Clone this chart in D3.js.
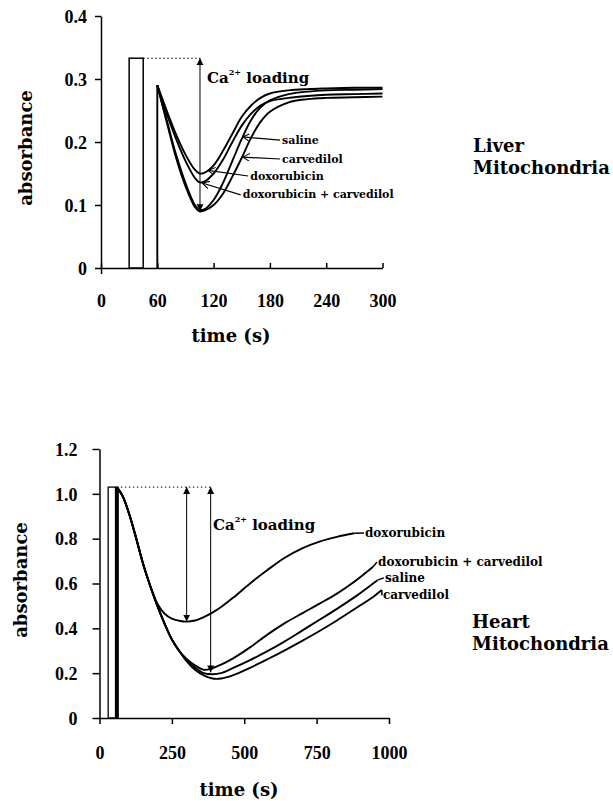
<!DOCTYPE html>
<html>
<head>
<meta charset="utf-8">
<script src="https://d3js.org/d3.v7.min.js"></script>
<style>
body { margin: 0; background: #fff; }
text { font-family: "DejaVu Serif", serif; font-weight: bold; fill: #000; }
</style>
</head>
<body>
<div id="chart"></div>
<script>
// ---- liver mitochondria (top panel) ----
let liverTime = [60, 70, 80, 90, 100, 105, 110, 120, 130, 140, 150, 160, 170, 180, 200, 220, 240, 270, 300]
let liverSaline = [0.29, 0.235, 0.18, 0.135, 0.1, 0.092, 0.093, 0.108, 0.135, 0.17, 0.205, 0.235, 0.255, 0.266, 0.276, 0.28, 0.282, 0.283, 0.284]
let liverCarvedilol = [0.29, 0.232, 0.175, 0.13, 0.097, 0.09, 0.091, 0.1, 0.118, 0.145, 0.175, 0.207, 0.232, 0.248, 0.263, 0.268, 0.27, 0.271, 0.272]
let liverDoxorubicin = [0.29, 0.25, 0.212, 0.18, 0.156, 0.15, 0.151, 0.163, 0.186, 0.213, 0.24, 0.258, 0.27, 0.277, 0.282, 0.284, 0.285, 0.286, 0.286]
let liverDoxCarv = [0.29, 0.245, 0.205, 0.17, 0.143, 0.136, 0.137, 0.15, 0.172, 0.2, 0.226, 0.245, 0.258, 0.265, 0.27, 0.273, 0.275, 0.276, 0.277]
let liverXTicks = [0, 60, 120, 180, 240, 300]
let liverYTicks = [0, 0.1, 0.2, 0.3, 0.4]
// Ca2+ pulse bar: start, end (s), height
let liverPulse = [30, 45, 0.333]
let liverLoading = [105.5, 0.09]   // time of the arrow, bottom value

// ---- heart mitochondria (bottom panel) ----
let heartTime = [60, 80, 100, 125, 150, 175, 200, 225, 250, 275, 300, 330, 360, 390, 420, 460, 520, 580, 640, 700, 760, 820, 880, 945, 960, 975]
let heartDoxorubicin = [1.03, 0.99, 0.92, 0.81, 0.69, 0.59, 0.51, 0.465, 0.443, 0.434, 0.43, 0.435, 0.45, 0.47, 0.495, 0.535, 0.6, 0.66, 0.715, 0.757, 0.787, 0.808, 0.824, null, null, null]
let heartDoxCarv = [1.03, 0.99, 0.92, 0.81, 0.69, 0.59, 0.5, 0.42, 0.35, 0.3, 0.265, 0.235, 0.215, 0.222, 0.238, 0.265, 0.315, 0.372, 0.423, 0.467, 0.51, 0.555, 0.608, 0.675, null, null]
let heartSaline = [1.03, 0.99, 0.92, 0.81, 0.69, 0.59, 0.5, 0.42, 0.35, 0.3, 0.26, 0.225, 0.2, 0.195, 0.2, 0.222, 0.258, 0.298, 0.342, 0.39, 0.438, 0.487, 0.538, 0.6, 0.615, null]
let heartCarvedilol = [1.03, 0.99, 0.92, 0.81, 0.69, 0.59, 0.5, 0.42, 0.35, 0.3, 0.255, 0.215, 0.19, 0.176, 0.176, 0.19, 0.224, 0.262, 0.302, 0.344, 0.388, 0.435, 0.485, 0.54, 0.555, 0.571]
let heartXTicks = [0, 250, 500, 750, 1000]
let heartYTicks = [0, 0.2, 0.4, 0.6, 0.8, 1.0, 1.2]
let heartPulse = [30, 60, 1.03]
let heartLoading = [[301, 0.43], [384, 0.203]]

let seriesNames = ["saline", "carvedilol", "doxorubicin", "doxorubicin + carvedilol"]

var svg = d3.select("#chart").append("svg")
  .attr("width", 613)
  .attr("height", 801)

// arrow heads
var defs = svg.append("defs")
defs.append("marker")
  .attr("id", "solidHead")
  .attr("viewBox", "0 0 10 10")
  .attr("refX", 10).attr("refY", 5)
  .attr("markerWidth", 7).attr("markerHeight", 9)
  .attr("markerUnits", "userSpaceOnUse")
  .attr("orient", "auto-start-reverse")
  .append("path")
  .attr("d", "M0,0L10,5L0,10z")
  .attr("fill", "#000")
defs.append("marker")
  .attr("id", "openHead")
  .attr("viewBox", "0 0 10 10")
  .attr("refX", 9).attr("refY", 5)
  .attr("markerWidth", 8).attr("markerHeight", 8)
  .attr("markerUnits", "userSpaceOnUse")
  .attr("orient", "auto")
  .append("path")
  .attr("d", "M0,0L9,5L0,10")
  .attr("fill", "none")
  .attr("stroke", "#000")
  .attr("stroke-width", 1.3)

function fmtTick(d) { return d === 0 ? "0" : d3.format(".1f")(d) }

function drawAxes(x, y, xTicks, yTicks, opt) {
  var xAxis = svg.append("g")
    .attr("transform", `translate(0,${y(0)})`)
    .call(d3.axisBottom(x).tickValues(xTicks).tickSizeInner(opt.xTick).tickSizeOuter(0).tickPadding(opt.xPad).tickFormat(d3.format("d")))
  var yAxis = svg.append("g")
    .attr("transform", `translate(${x(0)},0)`)
    .call(d3.axisLeft(y).tickValues(yTicks).tickSize(opt.yTick).tickSizeOuter(0).tickPadding(opt.yPad).tickFormat(fmtTick))
  if (opt.xTick < 0) {
    // little outward stub under the origin
    svg.append("g")
      .attr("transform", `translate(0,${y(0)})`)
      .call(d3.axisBottom(x).tickValues([0]).tickSize(6).tickFormat(""))
      .call(g => g.select(".domain").remove())
      .selectAll("line").attr("stroke-width", 1.5)
  }
  ;[xAxis, yAxis].forEach(a => {
    a.selectAll("path, line").attr("stroke", "#000").attr("stroke-width", 1.5)
    a.selectAll("text")
      .style("font-size", "18px")
      .style("font-weight", "bold")
      .style("font-family", "'Liberation Serif', serif")
      .attr("fill", "#000")
  })
  yAxis.selectAll("text").attr("dy", "0.35em")
}

function drawCurves(x, y, time, series) {
  var line = d3.line()
    .defined(d => d[1] != null)
    .x(d => x(d[0]))
    .y(d => y(d[1]))
    .curve(d3.curveCatmullRom.alpha(0.5))
  series.forEach(vals => {
    svg.append("path")
      .datum(time.map((t, i) => [t, vals[i]]))
      .attr("d", line)
      .attr("fill", "none")
      .attr("stroke", "#000")
      .attr("stroke-width", 1.9)
  })
}

function loadingLabel(px, py) {
  var t = svg.append("text")
    .attr("x", px).attr("y", py)
    .attr("dominant-baseline", "central")
    .style("font-size", "15px")
  t.append("tspan").text("Ca")
  t.append("tspan").text("2+").style("font-size", "8px").attr("dy", -6)
  t.append("tspan").text(" loading").attr("dy", 6)
}

//_----------------------- liver -----------------------//
var xL = d3.scaleLinear().domain([0, 300]).range([101, 382.5])
var yL = d3.scaleLinear().domain([0, 0.4]).range([268, 16])

drawAxes(xL, yL, liverXTicks, liverYTicks, { xTick: -5, xPad: 26, yTick: 6, yPad: 8 })

// pulse bar and injection line
svg.append("rect")
  .attr("x", xL(liverPulse[0])).attr("y", yL(liverPulse[2]))
  .attr("width", xL(liverPulse[1]) - xL(liverPulse[0]))
  .attr("height", yL(0) - yL(liverPulse[2]))
  .attr("fill", "none").attr("stroke", "#000").attr("stroke-width", 1.5)
svg.append("line")
  .attr("x1", xL(liverTime[0])).attr("x2", xL(liverTime[0]))
  .attr("y1", yL(0)).attr("y2", yL(liverSaline[0]))
  .attr("stroke", "#000").attr("stroke-width", 1.9)

drawCurves(xL, yL, liverTime, [liverSaline, liverCarvedilol, liverDoxorubicin, liverDoxCarv])

// dotted reference + Ca loading arrow
svg.append("line")
  .attr("x1", xL(liverPulse[1])).attr("x2", xL(liverLoading[0]))
  .attr("y1", yL(liverPulse[2])).attr("y2", yL(liverPulse[2]))
  .attr("stroke", "#000").attr("stroke-width", 1).attr("stroke-dasharray", "1.5,2.5")
svg.append("line")
  .attr("x1", xL(liverLoading[0])).attr("x2", xL(liverLoading[0]))
  .attr("y1", yL(liverPulse[2])).attr("y2", yL(liverLoading[1]))
  .attr("stroke", "#000").attr("stroke-width", 1)
  .attr("marker-start", "url(#solidHead)").attr("marker-end", "url(#solidHead)")
loadingLabel(xL(113), yL(0.302))

// series labels with pointer arrows (label pos and arrow tip in data units)
var liverLabelPos = [[193, 0.203], [193, 0.173], [159, 0.146], [151, 0.116]]
var liverLabelTip = [[151, 0.208], [151, 0.176], [114, 0.155], [108, 0.135]]
seriesNames.forEach((name, i) => {
  svg.append("line")
    .attr("x1", xL(liverLabelPos[i][0]) - 2).attr("y1", yL(liverLabelPos[i][1]))
    .attr("x2", xL(liverLabelTip[i][0])).attr("y2", yL(liverLabelTip[i][1]))
    .attr("stroke", "#000").attr("stroke-width", 1.2)
    .attr("marker-end", "url(#openHead)")
  svg.append("text")
    .attr("x", xL(liverLabelPos[i][0])).attr("y", yL(liverLabelPos[i][1]))
    .attr("dominant-baseline", "central")
    .style("font-size", "11px")
    .text(name)
})

svg.append("text").attr("transform", "translate(25,148) rotate(-90)")
  .attr("text-anchor", "middle").attr("dominant-baseline", "central")
  .style("font-size", "18px").text("absorbance")
svg.append("text").attr("x", 231).attr("y", 335)
  .attr("text-anchor", "middle").attr("dominant-baseline", "central")
  .style("font-size", "18px").text("time (s)")
svg.append("text").attr("x", 473).attr("y", 145).attr("dominant-baseline", "central")
  .style("font-size", "18px").text("Liver")
svg.append("text").attr("x", 473).attr("y", 167).attr("dominant-baseline", "central")
  .style("font-size", "18px").text("Mitochondria")

//_----------------------- heart -----------------------//
var xH = d3.scaleLinear().domain([0, 1000]).range([99.5, 389])
var yH = d3.scaleLinear().domain([0, 1.2]).range([718, 449])

drawAxes(xH, yH, heartXTicks, heartYTicks, { xTick: 6, xPad: 22, yTick: 7, yPad: 15 })

svg.append("rect")
  .attr("x", xH(heartPulse[0])).attr("y", yH(heartPulse[2]))
  .attr("width", xH(heartPulse[1]) - xH(heartPulse[0]))
  .attr("height", yH(0) - yH(heartPulse[2]))
  .attr("fill", "none").attr("stroke", "#000").attr("stroke-width", 1.3)
svg.append("line")
  .attr("x1", xH(heartPulse[1])).attr("x2", xH(heartPulse[1]))
  .attr("y1", yH(0)).attr("y2", yH(heartPulse[2]))
  .attr("stroke", "#000").attr("stroke-width", 4)

var heartSeries = [heartSaline, heartCarvedilol, heartDoxorubicin, heartDoxCarv]
drawCurves(xH, yH, heartTime, heartSeries)

svg.append("line")
  .attr("x1", xH(heartPulse[1])).attr("x2", xH(heartLoading[1][0]))
  .attr("y1", yH(heartPulse[2])).attr("y2", yH(heartPulse[2]))
  .attr("stroke", "#000").attr("stroke-width", 1).attr("stroke-dasharray", "1.5,2.5")
heartLoading.forEach(a => {
  svg.append("line")
    .attr("x1", xH(a[0])).attr("x2", xH(a[0]))
    .attr("y1", yH(heartPulse[2])).attr("y2", yH(a[1]))
    .attr("stroke", "#000").attr("stroke-width", 1)
    .attr("marker-start", "url(#solidHead)").attr("marker-end", "url(#solidHead)")
})
loadingLabel(xH(392), yH(0.861))

// labels at the curve ends, joined by a short leader
var heartLabelPos = [[986, 0.625], [979, 0.547], [917, 0.825], [962, 0.696]]
seriesNames.forEach((name, i) => {
  var vals = heartSeries[i]
  var last = vals.reduce((k, v, j) => v != null ? j : k, 0)
  svg.append("line")
    .attr("x1", xH(heartTime[last])).attr("y1", yH(vals[last]))
    .attr("x2", xH(heartLabelPos[i][0]) - 1).attr("y2", yH(heartLabelPos[i][1]))
    .attr("stroke", "#000").attr("stroke-width", 1.5)
  svg.append("text")
    .attr("x", xH(heartLabelPos[i][0])).attr("y", yH(heartLabelPos[i][1]))
    .attr("dominant-baseline", "central")
    .style("font-size", "12px")
    .text(name)
})

svg.append("text").attr("transform", "translate(20,580) rotate(-90)")
  .attr("text-anchor", "middle").attr("dominant-baseline", "central")
  .style("font-size", "18px").text("absorbance")
svg.append("text").attr("x", 239).attr("y", 789)
  .attr("text-anchor", "middle").attr("dominant-baseline", "central")
  .style("font-size", "18px").text("time (s)")
svg.append("text").attr("x", 472).attr("y", 621).attr("dominant-baseline", "central")
  .style("font-size", "18px").text("Heart")
svg.append("text").attr("x", 472).attr("y", 643).attr("dominant-baseline", "central")
  .style("font-size", "18px").text("Mitochondria")
</script>
</body>
</html>
